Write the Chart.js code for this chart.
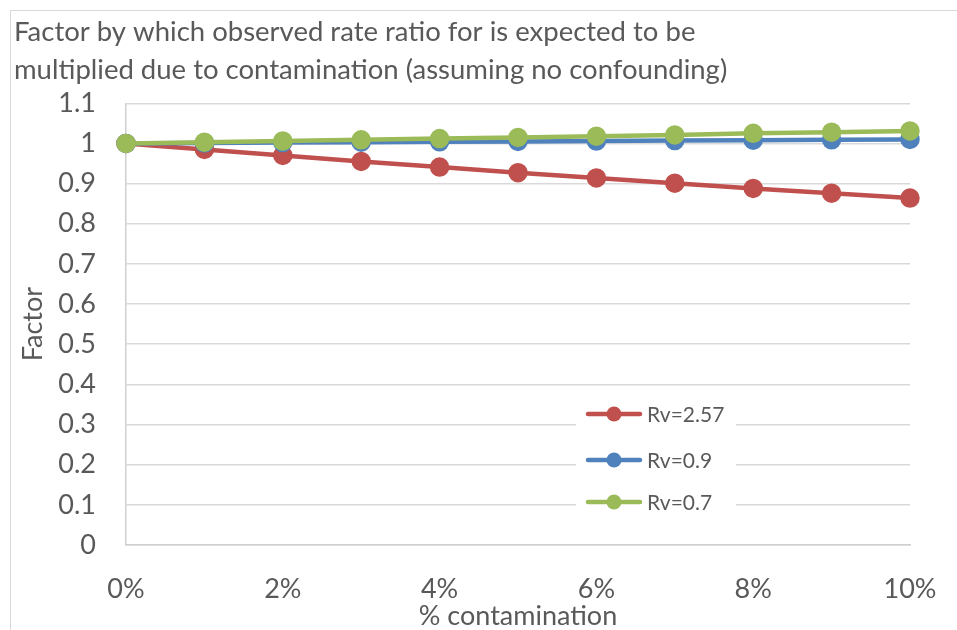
<!DOCTYPE html>
<html>
<head>
<meta charset="utf-8">
<script src="https://cdn.jsdelivr.net/npm/chart.js@4/dist/chart.umd.min.js"></script>
<style>
  html, body { margin: 0; padding: 0; background: #fff; }
  #wrap { position: relative; width: 957px; height: 630px; overflow: hidden; }
  #frame { position: absolute; left: 10px; top: 10px; width: 1000px; height: 700px; border: 1px solid #d9d9d9; box-sizing: border-box; }
  #c { position: absolute; left: 0; top: 0; }
</style>
</head>
<body>
<div id="wrap">
  <div id="frame"></div>
  <canvas id="c" width="957" height="630"></canvas>
</div>
<script>
// Share of contaminated subjects
const contamination = ['0%', '1%', '2%', '3%', '4%', '5%', '6%', '7%', '8%', '9%', '10%'];

// Multiplying factor for each assumed Rv
const rv257 = [1.000, 0.985, 0.970, 0.955, 0.941, 0.927, 0.914, 0.901, 0.888, 0.876, 0.864];
const rv09  = [1.000, 1.001, 1.002, 1.003, 1.004, 1.005, 1.006, 1.007, 1.008, 1.009, 1.010];
const rv07  = [1.000, 1.003, 1.006, 1.009, 1.012, 1.015, 1.018, 1.021, 1.025, 1.028, 1.031];

const seriesNames = ['Rv=2.57', 'Rv=0.9', 'Rv=0.7'];
const yTicks = [0, 0.1, 0.2, 0.3, 0.4, 0.5, 0.6, 0.7, 0.8, 0.9, 1, 1.1];

const titleLines = [
  'Factor by which observed rate ratio for is expected to be',
  'multiplied due to contamination (assuming no confounding)'
];

const FONT = 'Lato, "Open Sans", sans-serif';
const TEXT = '#595959';

function series(label, data, color, order) {
  return {
    label, data, order,
    borderColor: color,
    backgroundColor: color,
    pointBackgroundColor: color,
    pointBorderColor: color,
    borderWidth: 4.5,
    pointRadius: 7.5,
    pointHoverRadius: 7.5,
    tension: 0
  };
}

// Legend drawn inside the plot area: line sample with a marker, then label
const insideLegend = {
  id: 'insideLegend',
  afterDatasetsDraw(chart) {
    const ctx = chart.ctx;
    const x0 = 576, y0 = 393, w = 160, h = 128;
    const rows = [414, 460, 502];
    ctx.save();
    ctx.fillStyle = '#ffffff';
    ctx.fillRect(x0, y0, w, h);
    chart.data.datasets.forEach((ds, i) => {
      const y = rows[i];
      ctx.strokeStyle = ds.borderColor;
      ctx.lineWidth = 4.5;
      ctx.lineCap = 'round';
      ctx.beginPath();
      ctx.moveTo(588, y);
      ctx.lineTo(640, y);
      ctx.stroke();
      ctx.fillStyle = ds.borderColor;
      ctx.beginPath();
      ctx.arc(614, y, 7.5, 0, Math.PI * 2);
      ctx.fill();
      ctx.fillStyle = TEXT;
      ctx.font = '21px ' + FONT;
      ctx.textAlign = 'left';
      ctx.textBaseline = 'middle';
      ctx.fillText(ds.label, 647, y + 1);
    });
    ctx.restore();
  }
};

new Chart(document.getElementById('c'), {
  type: 'line',
  data: {
    labels: contamination,
    datasets: [
      series(seriesNames[0], rv257, '#c0504d', 2),
      series(seriesNames[1], rv09, '#4f81bd', 1),
      series(seriesNames[2], rv07, '#9bbb59', 0)
    ]
  },
  options: {
    responsive: false,
    animation: false,
    devicePixelRatio: 1,
    layout: { padding: { left: 14, right: 47, top: 14, bottom: 0 } },
    plugins: {
      legend: { display: false },
      tooltip: { enabled: false },
      title: {
        display: true,
        text: titleLines,
        align: 'start',
        color: TEXT,
        font: { family: FONT, size: 27.5, weight: 'normal', lineHeight: 1.35 },
        padding: { top: 0, bottom: 15 }
      }
    },
    scales: {
      x: {
        offset: false,
        grid: { display: false, drawTicks: false },
        border: { display: true, color: '#d0d0d0', width: 1.5 },
        afterFit: (axis) => { axis.height = 85; axis.paddingRight = 0; axis.paddingLeft = 0; },
        ticks: {
          color: TEXT,
          font: { family: FONT, size: 27 },
          padding: 28,
          autoSkip: false,
          maxRotation: 0,
          callback: (v, i) => (i % 2 === 0 ? contamination[i] : '')
        },
        title: {
          display: true,
          text: '% contamination',
          color: TEXT,
          font: { family: FONT, size: 27, lineHeight: 1.0 },
          padding: { top: 0, bottom: 0 }
        }
      },
      y: {
        min: 0,
        max: 1.1,
        afterBuildTicks: (axis) => { axis.ticks = yTicks.map(v => ({ value: v })); },
        afterFit: (axis) => { axis.width = 112; },
        grid: { color: '#d9d9d9', lineWidth: 1.5, drawTicks: false },
        border: { display: true, color: '#d0d0d0', width: 1.5 },
        ticks: {
          color: TEXT,
          font: { family: FONT, size: 27 },
          padding: 30,
          callback: (v) => String(Math.round(v * 10) / 10)
        },
        title: {
          display: true,
          text: 'Factor',
          color: TEXT,
          font: { family: FONT, size: 27, lineHeight: 1.2 },
          padding: { top: 3, bottom: 0 }
        }
      }
    }
  },
  plugins: [insideLegend]
});
</script>
</body>
</html>
